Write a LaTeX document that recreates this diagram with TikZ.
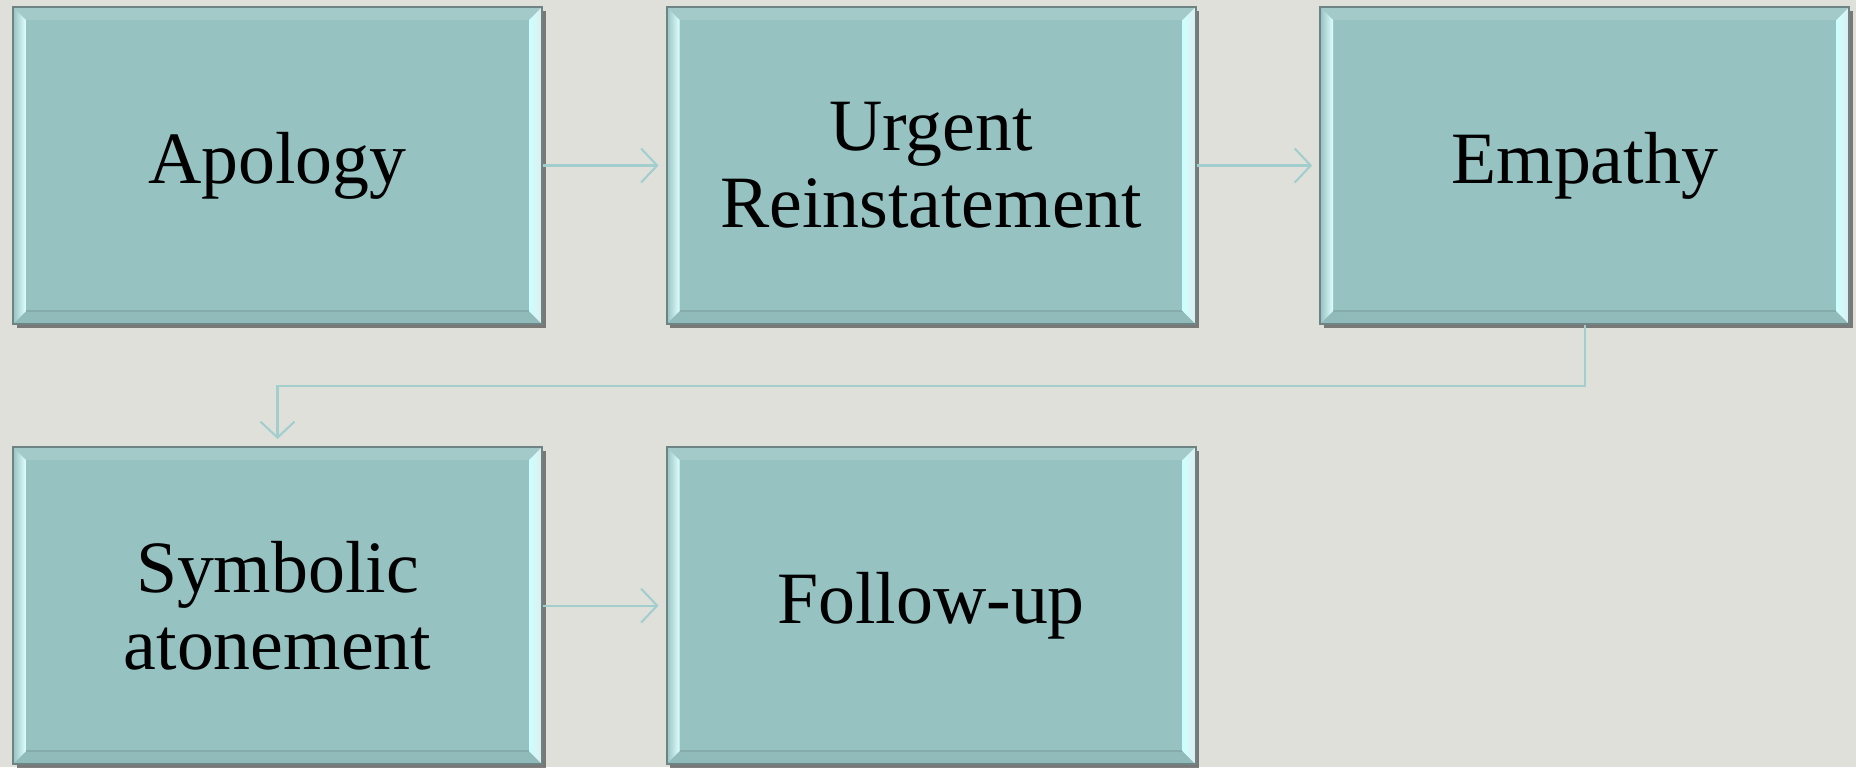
\documentclass[tikz,border=0pt]{standalone}
\usepackage{fontspec}
\setmainfont{Liberation Serif}
\usetikzlibrary{positioning,arrows.meta,shadows}
\definecolor{pagebg}{HTML}{E0E0DB}
\definecolor{boxface}{HTML}{97C2C2}
\definecolor{boxedge}{HTML}{6E8383}
\definecolor{linkcol}{HTML}{A3CECE}
\newcommand{\bv}{0.13cm}

\begin{document}
\begin{tikzpicture}[%
  node distance=1.21cm and 1.225cm,
  stage/.style={draw=boxedge, line width=0.6pt, fill=boxface,
    minimum width=5.29cm, minimum height=3.17cm, inner sep=0pt,
    align=center, font=\fontsize{21}{22}\selectfont,
    drop shadow={shadow xshift=0.035cm, shadow yshift=-0.035cm,
      opacity=0.7, fill=black!70},
    path picture={
      \coordinate (pp-nw) at (path picture bounding box.north west);
      \coordinate (pp-ne) at (path picture bounding box.north east);
      \coordinate (pp-sw) at (path picture bounding box.south west);
      \coordinate (pp-se) at (path picture bounding box.south east);
      \fill[boxface!88!white] (pp-nw) -- (pp-ne) -- ([shift={(-\bv,-\bv)}]pp-ne)
        -- ([shift={(\bv,-\bv)}]pp-nw) -- cycle;
      \fill[boxface!96!black] (pp-sw) -- (pp-se) -- ([shift={(-\bv,\bv)}]pp-se)
        -- ([shift={(\bv,\bv)}]pp-sw) -- cycle;
      \draw[boxface!88!black, line width=0.4pt]
        ([shift={(\bv,\bv)}]pp-sw) -- ([shift={(-\bv,\bv)}]pp-se);
      \shade[left color=boxface, right color=white!88!cyan]
        (pp-nw) -- ([shift={(\bv,-\bv)}]pp-nw) -- ([shift={(\bv,\bv)}]pp-sw)
        -- (pp-sw) -- cycle;
      \shade[left color=white!80!cyan, right color=white!70!boxface]
        (pp-ne) -- ([shift={(-\bv,-\bv)}]pp-ne) -- ([shift={(-\bv,\bv)}]pp-se)
        -- (pp-se) -- cycle;
    }},
  link/.style={draw=linkcol, line width=0.6pt,
    -{Straight Barb[length=0.16cm,width=0.34cm]}, shorten >=0.07cm}]

  \fill[pagebg] (0,0) rectangle (18.56,-7.67);
  \useasboundingbox (0,0) rectangle (18.56,-7.67);

  \node[stage] (apology) at (2.775,-1.655) {Apology};
  \node[stage, right=of apology] (urgent) {Urgent\\Reinstatement};
  \node[stage, right=of urgent] (empathy) {Empathy};
  \node[stage, below=of apology] (symbolic) {Symbolic\\atonement};
  \node[stage, right=of symbolic] (followup) {Follow-up};

  \draw[link] (apology) -- (urgent);
  \draw[link] (urgent) -- (empathy);
  \draw[link] (empathy.south) -- ++(0,-0.61) -| (symbolic.north);
  \draw[link] (symbolic) -- (followup);

\end{tikzpicture}
\end{document}
